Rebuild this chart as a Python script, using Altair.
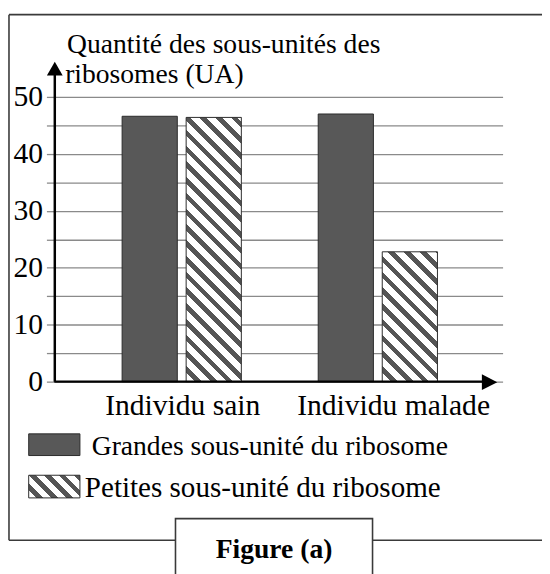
import altair as alt
import pandas as pd

# ---------------- data ----------------
categories = ["Individu sain", "Individu malade"]
subunits = ["Grandes", "Petites"]
grandes = [46.6, 47.0]
petites = [46.4, 22.8]
legend_labels = ["Grandes sous-unité du ribosome", "Petites sous-unité du ribosome"]
y_title = ["Quantité des sous-unités des", "ribosomes (UA)"]
y_ticks = list(range(0, 55, 5))
figure_label = "Figure (a)"

# ---------------- styling ----------------
FONT = "Liberation Serif, Times New Roman, serif"
FS = 28
W, H = 455, 289
YMAX = 50
DARK_FILL = "#585858"
EDGE = "#2b2b2b"
STRIPE = "#555555"
GRID = "#8a8a8a"
PAD_X_INNER, PAD_X_OUTER, X_ALIGN, PAD_OFF = 0.392, 0.339, 0.51, 0.138

step = W / (len(categories) - PAD_X_INNER + 2 * PAD_X_OUTER)
band = step * (1 - PAD_X_INNER)
sub_step = band / (len(subunits) - PAD_OFF)
BAR_W = sub_step * (1 - PAD_OFF)


def hatch(w, h, period=16.0, dark_frac=0.42):
    """Diagonal '\\' stripes as a sharp-stop linear gradient (bbox units)."""
    k = (w + h) / (w * w + h * h)
    n = (w + h) / period
    stops = []
    i = 0
    while i / n < 1:
        a = i / n
        b = min((i + 1 - dark_frac) / n, 1)
        c = min((i + 1) / n, 1)
        stops += [
            {"offset": a, "color": "#ffffff"},
            {"offset": b, "color": "#ffffff"},
            {"offset": b, "color": STRIPE},
            {"offset": c, "color": STRIPE},
        ]
        i += 1
    return {"gradient": "linear", "x1": 0, "y1": 1,
            "x2": k * w, "y2": 1 - k * h, "stops": stops}


df = pd.DataFrame({
    "categorie": categories * 2,
    "type": [subunits[0]] * 2 + [subunits[1]] * 2,
    "valeur": grandes + petites,
})

x_enc = alt.X("categorie:N", sort=categories,
              scale=alt.Scale(domain=categories, paddingInner=PAD_X_INNER,
                              paddingOuter=PAD_X_OUTER, align=X_ALIGN),
              axis=alt.Axis(title=None, domain=False, ticks=False, tickSize=0,
                            labelFont=FONT, labelFontSize=30, labelColor="black",
                            labelAngle=0, labelPadding=9, labelLimit=0,
                            labelOffset={"condition": {"test": "datum.value === 'Individu malade'",
                                                       "value": 16}, "value": 1}))
xo_enc = alt.XOffset("type:N", scale=alt.Scale(domain=subunits, paddingInner=PAD_OFF,
                                                 paddingOuter=0))
y_enc = alt.Y("valeur:Q", scale=alt.Scale(domain=[0, YMAX], nice=False),
              axis=alt.Axis(title=None, values=y_ticks, domain=False,
                            grid=True, gridColor=GRID, gridWidth=1.3, gridOpacity=1,
                            tickColor=GRID, tickWidth=1.3, tickSize=8,
                            labelFont=FONT, labelFontSize=30, labelColor="black",
                            labelPadding=4,
                            labelExpr="datum.value % 10 === 0 ? datum.label : ''"))

layers = []
layers.append(
    alt.Chart(df).transform_filter(alt.datum.type == subunits[0])
    .mark_bar(fill=DARK_FILL, stroke=EDGE, strokeWidth=1)
    .encode(x=x_enc, xOffset=xo_enc, y=y_enc)
)
for cat, val in zip(categories, petites):
    layers.append(
        alt.Chart(df)
        .transform_filter((alt.datum.type == subunits[1]) & (alt.datum.categorie == cat))
        .mark_bar(fill=hatch(BAR_W, val * H / YMAX), stroke=EDGE, strokeWidth=1)
        .encode(x=x_enc, xOffset=xo_enc, y=y_enc)
    )

one = pd.DataFrame({"k": [0]})


def px(X):
    return X - 55


def py(Y):
    return Y - 94


def rule(x1, y1, x2, y2, color="black", width=2.5):
    return alt.Chart(one).mark_rule(color=color, strokeWidth=width).encode(
        x=alt.value(px(x1)), x2=alt.value(px(x2)), y=alt.value(py(y1)), y2=alt.value(py(y2)))


def text(t, X, Y, align="left", weight="normal", size=FS):
    return alt.Chart(one).mark_text(text=t, align=align, baseline="alphabetic",
                                    font=FONT, fontSize=size, fontWeight=weight,
                                    color="black").encode(
        x=alt.value(px(X)), y=alt.value(py(Y)))


def tri(shape, X, Y, size=256):
    return alt.Chart(one).mark_point(shape=shape, filled=True, fill="black",
                                     stroke=None, opacity=1, size=size).encode(
        x=alt.value(px(X)), y=alt.value(py(Y)))


# axes with arrows
layers.append(rule(55.5, 383, 55.5, 70))
layers.append(tri("M0,-0.9L1,0.85L-1,0.85Z", 55.5, 65.5))
layers.append(rule(55, 383, 490, 383))
layers.append(tri("M0.95,0L-1,-1L-1,1Z", 497, 383.5))

# axis title (two lines)
layers.append(text(y_title[0], 68, 49))
layers.append(text(y_title[1], 66, 80))

# legend
layers.append(alt.Chart(one).mark_rect(fill=DARK_FILL, stroke=EDGE, strokeWidth=1).encode(
    x=alt.value(px(29)), x2=alt.value(px(81)), y=alt.value(py(436)), y2=alt.value(py(458))))
layers.append(text(legend_labels[0], 93, 457))
layers.append(alt.Chart(one).mark_rect(fill=hatch(52, 23, period=15, dark_frac=0.45),
                                       stroke=EDGE, strokeWidth=1).encode(
    x=alt.value(px(29)), x2=alt.value(px(81)), y=alt.value(py(478)), y2=alt.value(py(501))))
layers.append(text(legend_labels[1], 86, 500, size=29.5))

# frame
FRAME = "#3a3a3a"
layers.append(rule(9, 10.5, 550, 10.5, FRAME, 1.6))
layers.append(rule(9, 10.5, 9, 544, FRAME, 1.6))
layers.append(rule(9, 544, 550, 544, FRAME, 1.6))
layers.append(alt.Chart(one).mark_rect(fill="white", stroke=FRAME, strokeWidth=1.6).encode(
    x=alt.value(px(178)), x2=alt.value(px(378)), y=alt.value(py(522)), y2=alt.value(py(600))))
layers.append(text(figure_label, 278, 562, align="center", weight="bold"))

chart = alt.layer(*layers).properties(
    width=W, height=H,
    autosize=alt.AutoSizeParams(type="none"),
    padding={"left": 47, "top": 86, "right": 40, "bottom": 191},
    background="white",
).configure_view(stroke=None)

chart.save("out.html", embed_options={"renderer": "svg", "actions": False})
